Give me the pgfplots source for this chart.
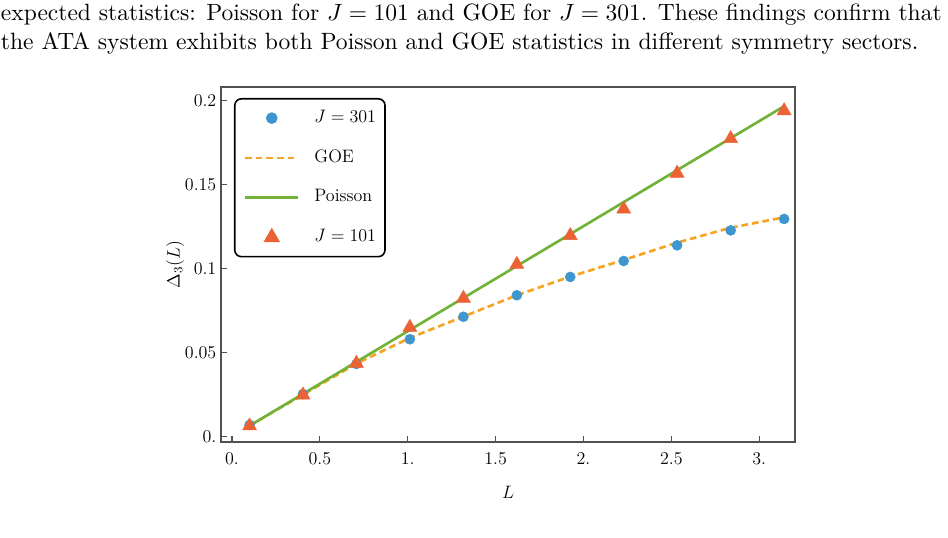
\RequirePackage{fix-cm}
\documentclass[border=0pt]{standalone}
\usepackage{pgfplots}
\pgfplotsset{compat=1.18}
\usepackage{graphicx}

\definecolor{cJthree}{RGB}{62,150,208}
\definecolor{cGOE}{RGB}{245,165,35}
\definecolor{cPoi}{RGB}{114,178,56}
\definecolor{cJone}{RGB}{235,98,52}
\definecolor{framegray}{RGB}{80,80,80}

% legend sample styles: a single centred mark, or a 40pt line segment
\pgfplotsset{
  markimg/.style={legend image code/.code={\path (0pt,0pt) (40pt,0pt); \draw[##1] plot coordinates {(20pt,0pt)};}},
  lineimg/.style={legend image code/.code={\draw[##1] (0pt,0pt) -- (40pt,0pt);}},
}

\begin{document}
\begin{tikzpicture}
\path[use as bounding box] (0,0) rectangle (711pt,403.5pt);

% paragraph text above the figure
\node[anchor=base west, inner sep=0pt] at (0.5pt,388pt)
  {\resizebox{705.5pt}{!}{expected statistics: Poisson for $J = 101$ and GOE for $J = 301$. These findings confirm that}};
\node[anchor=base west, inner sep=0pt] at (0.5pt,366pt)
  {\resizebox{688pt}{!}{the ATA system exhibits both Poisson and GOE statistics in different symmetry sectors.}};

\begin{axis}[
  at={(165.75pt,72pt)}, anchor=south west,
  scale only axis, width=430.5pt, height=266.25pt,
  xmin=-0.0626, xmax=3.204, ymin=-0.00315, ymax=0.20815,
  axis line style={framegray, line width=0.9pt},
  tick style={framegray, line width=0.8pt},
  tick align=inside, xtick pos=bottom, ytick pos=left,
  major tick length=4.5pt,
  xtick={0,0.5,1,1.5,2,2.5,3}, xticklabels={0.,0.5,1.,1.5,2.,2.5,3.},
  ytick={0,0.05,0.1,0.15,0.2}, yticklabels={0.,0.05,0.1,0.15,0.2},
  tick label style={font=\fontsize{13.5}{16}\selectfont, black},
  xticklabel style={yshift=-4pt},
  label style={font=\fontsize{13.5}{16}\selectfont},
  xlabel={$L$}, ylabel={$\Delta_3(L)$},
  xlabel style={at={(axis description cs:0.5,-0.141)}, anchor=center},
  ylabel style={at={(axis description cs:-0.08,0.5)}, anchor=center},
  legend cell align=left,
  legend style={
    at={(axis description cs:0.0226,0.969)}, anchor=north west,
    draw=black, line width=1.2pt, rounded corners=5pt,
    inner xsep=6.75pt, inner ysep=8.25pt,
    font=\fontsize{13.5}{16}\selectfont,
    nodes={inner sep=0pt, text height=9.5pt, text depth=3pt},
    row sep=17.3pt, column sep=11pt},
]

% GOE prediction
\addplot[cGOE, line width=2pt, dash pattern=on 5pt off 3pt, forget plot] table {
0.100 0.0066
0.404 0.0250
0.708 0.0435
1.012 0.0588
1.317 0.0715
1.621 0.0842
1.925 0.0953
2.229 0.1052
2.533 0.1155
2.838 0.1244
3.142 0.1306
};

% Poisson prediction
\addplot[cPoi, line width=2pt, forget plot] table {
0.100 0.0065
3.142 0.1967
};

% J = 301 sector
\addplot[cJthree, only marks, mark=*, mark size=3.75pt,
  mark options={draw=none, fill=cJthree}, forget plot] table {
0.100 0.0070
0.404 0.0254
0.708 0.0433
1.012 0.0580
1.317 0.0714
1.621 0.0842
1.925 0.0951
2.229 0.1046
2.533 0.1139
2.838 0.1228
3.142 0.1296
};

% J = 101 sector
\addplot[cJone, only marks, mark=triangle*, mark size=6pt,
  mark options={draw=none, fill=cJone}, forget plot] table {
0.100 0.0064
0.404 0.0248
0.708 0.0437
1.012 0.0651
1.317 0.0824
1.621 0.1026
1.925 0.1197
2.229 0.1355
2.533 0.1568
2.838 0.1774
3.142 0.1940
};

\addlegendimage{cJthree, only marks, mark=*, mark size=3.75pt, mark options={draw=none, fill=cJthree}, markimg}
\addlegendentry{$J = 301$}
\addlegendimage{cGOE, line width=2pt, dash pattern=on 5pt off 3pt, lineimg}
\addlegendentry{GOE}
\addlegendimage{cPoi, line width=2pt, lineimg}
\addlegendentry{Poisson}
\addlegendimage{cJone, only marks, mark=triangle*, mark size=6pt, mark options={draw=none, fill=cJone}, markimg}
\addlegendentry{$J = 101$}
\end{axis}
\end{tikzpicture}
\end{document}
